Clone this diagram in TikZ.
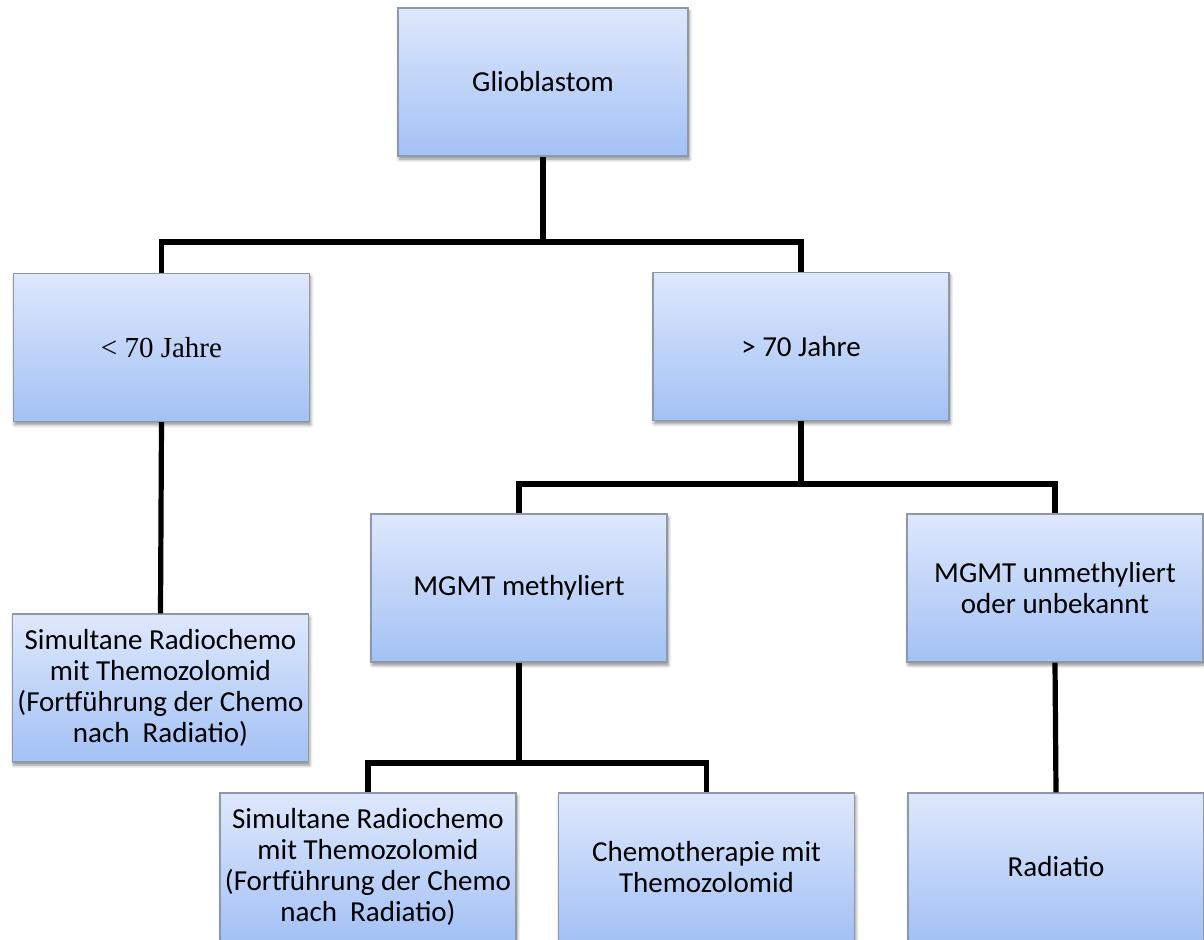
\documentclass[tikz,border=0pt]{standalone}
\usepackage{fontspec}
\setmainfont{Carlito}
\newfontfamily\timesfont{Liberation Serif}
\usetikzlibrary{shadows.blur}

\definecolor{boxtop}{HTML}{DEE8FC}
\definecolor{boxbot}{HTML}{A3C1F5}
\definecolor{boxline}{HTML}{8E99A8}

\tikzset{
  box/.style={draw=boxline, line width=0.6pt, top color=boxtop, bottom color=boxbot,
    minimum width=148pt, minimum height=74pt, align=center, inner sep=2pt,
    font=\fontsize{14.5}{15.5}\selectfont,
    blur shadow={shadow xshift=0.6pt, shadow yshift=-1.6pt, shadow blur radius=1.6pt,
      shadow blur steps=6, shadow opacity=45}},
  conn/.style={line width=2.6pt, black}
}

\begin{document}
\begin{tikzpicture}[x=0.5pt, y=-0.5pt]
         \useasboundingbox (0,0) rectangle (1204,940);

         \node[box,name=gbm, minimum width=145pt] at (543,82) {Glioblastom};
         \node[box,name=young] at (161.5,347.5) {\timesfont < 70 Jahre};
         \node[box,name=old] at (801,346.5) {> 70 Jahre};
         \node[box,name=young2] at (160.5,688) {Simultane Radiochemo\\mit Themozolomid\\(Fortführung der Chemo\\nach\ \ Radiatio)};
         \node[box,name=meth] at (519,588) {MGMT methyliert};
         \node[box,name=unmeth] at (1055,588) {MGMT unmethyliert\\oder unbekannt};
         \node[box,name=sim] at (368,867) {Simultane Radiochemo\\mit Themozolomid\\(Fortführung der Chemo\\nach\ \ Radiatio)};
         \node[box,name=chemo] at (706.5,867) {Chemotherapie mit\\Themozolomid};
         \node[box,name=rad] at (1056,867) {Radiatio};

         \coordinate (j1) at (gbm.south |- 0,242);
         \coordinate (j2) at (old.south |- 0,484);
         \coordinate (j3) at (meth.south |- 0,763);

         \draw[conn] (gbm.south) -- (j1);
         \draw[conn] (young.north) |- (j1) -| (old.north);
         \draw[conn] (young.south) -- (young2.north);
         \draw[conn] (old.south) -- (j2);
         \draw[conn] (meth.north) |- (j2) -| (unmeth.north);
         \draw[conn] (meth.south) -- (j3);
         \draw[conn] (sim.north) |- (j3) -| (chemo.north);
         \draw[conn] (unmeth.south) -- (rad.north);
      \end{tikzpicture}
\end{document}
